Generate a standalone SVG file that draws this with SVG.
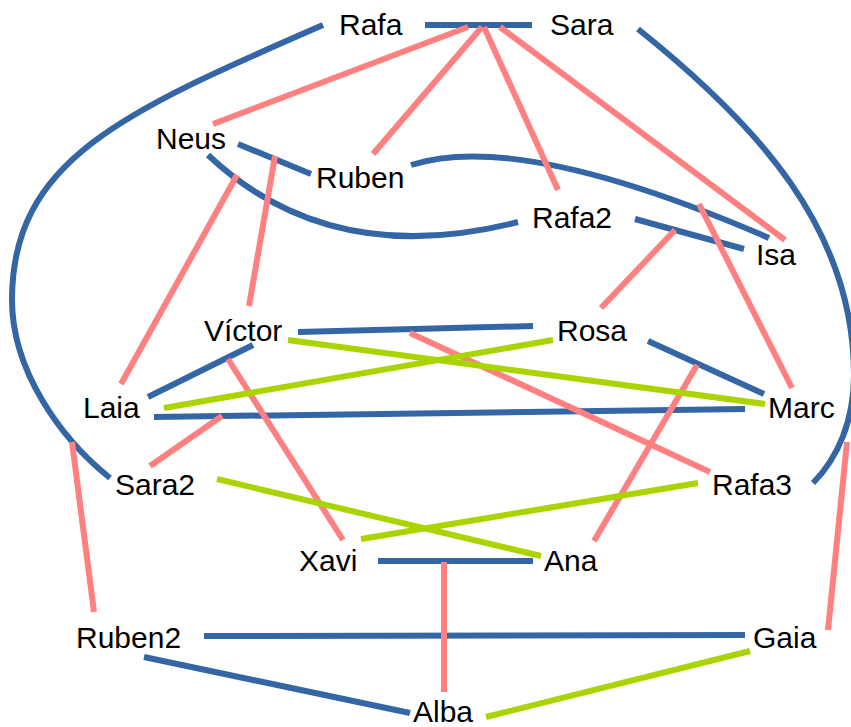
<svg xmlns="http://www.w3.org/2000/svg" width="851" height="727" viewBox="0 0 851 727">
<style>
.e{fill:none;stroke-width:6;stroke-linecap:butt}
.b{stroke:#3465a4}
.p{stroke:#ff8080}
.g{stroke:#aad400}
text{font-family:"Liberation Sans",Arial,sans-serif;font-size:30px;fill:#000}
</style>
<rect width="851" height="727" fill="#fff"/>
<g id="connectors">
<path class="e b" d="M323,25 C123,112 12,160 12,300 C12,370 60,438 110,478"/>
<path class="e b" d="M638,29 C758,125 854,230 854,375 C854,420 838,458 813,483"/>
<path class="e b" d="M425,25 L532,25"/>
<path class="e b" d="M238,144 L311,174"/>
<path class="e b" d="M208,155 Q330,270 518,222"/>
<path class="e b" d="M411,165 Q520,130 769,238"/>
<path class="e b" d="M635,219 L744,249"/>
<path class="e b" d="M298,332 L533,326"/>
<path class="e b" d="M253,345 L148,397"/>
<path class="e b" d="M154,417 L745,409"/>
<path class="e b" d="M648,341 L764,394"/>
<path class="e b" d="M378,561 L533,561"/>
<path class="e b" d="M204,636 L745,635"/>
<path class="e b" d="M144,657 L410,713"/>
<path class="e p" d="M213,124 L468,27"/>
<path class="e p" d="M373,154 L482,27"/>
<path class="e p" d="M484,27 L558,190"/>
<path class="e p" d="M500,27 L785,240"/>
<path class="e p" d="M675,230 L601,308"/>
<path class="e p" d="M699,204 L792,388"/>
<path class="e p" d="M237,175 L121,384"/>
<path class="e p" d="M275,156 L249,306"/>
<path class="e p" d="M410,333 L710,472"/>
<path class="e p" d="M228,359 L343,540"/>
<path class="e p" d="M222,416 L150,466"/>
<path class="e p" d="M697,365 L594,541"/>
<path class="e p" d="M444,562 L444,692"/>
<path class="e p" d="M72,442 L94,612"/>
<path class="e p" d="M847,442 L828,630"/>
<path class="e g" d="M288,340 L765,404"/>
<path class="e g" d="M553,340 L164,408"/>
<path class="e g" d="M217,479 L541,556"/>
<path class="e g" d="M698,483 L361,539"/>
<path class="e g" d="M750,651 L486,717"/>
</g>
<g id="Rafa"><text x="339" y="35">Rafa</text></g>
<g id="Sara"><text x="550" y="35">Sara</text></g>
<g id="Neus"><text x="156" y="149">Neus</text></g>
<g id="Ruben"><text x="316" y="188">Ruben</text></g>
<g id="Rafa2"><text x="532" y="228">Rafa2</text></g>
<g id="Isa"><text x="756" y="265">Isa</text></g>
<g id="Victor"><text x="204" y="341">Víctor</text></g>
<g id="Rosa"><text x="557" y="341">Rosa</text></g>
<g id="Laia"><text x="83" y="418">Laia</text></g>
<g id="Marc"><text x="768" y="418">Marc</text></g>
<g id="Sara2"><text x="115" y="495">Sara2</text></g>
<g id="Rafa3"><text x="712" y="495">Rafa3</text></g>
<g id="Xavi"><text x="299" y="571">Xavi</text></g>
<g id="Ana"><text x="544" y="571">Ana</text></g>
<g id="Ruben2"><text x="76" y="648">Ruben2</text></g>
<g id="Gaia"><text x="753" y="648">Gaia</text></g>
<g id="Alba"><text x="413" y="722">Alba</text></g>
</svg>
